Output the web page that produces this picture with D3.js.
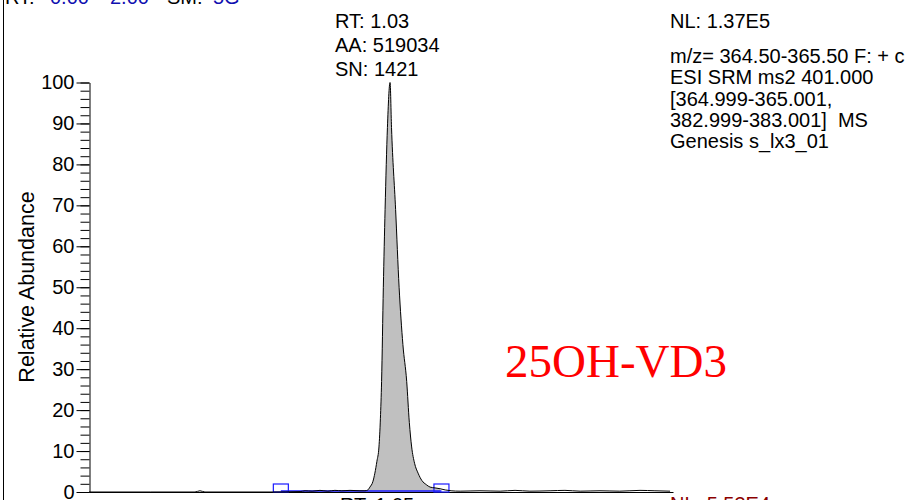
<!DOCTYPE html>
<html>
<head>
<meta charset="utf-8">
<script src="https://cdn.jsdelivr.net/npm/d3@7"></script>
<style>
  body { margin: 0; background: #fff; }
  svg { display: block; }
  text { font-family: "Liberation Sans", Arial, sans-serif; white-space: pre; }
</style>
</head>
<body>
<script>
// retention time (min) and relative abundance (%)
const rt = [0.00, 0.21, 0.363, 0.380, 0.397, 0.62, 0.723, 0.74, 0.764, 0.791, 0.818, 0.842, 0.866, 0.894, 0.928, 0.945,
            0.955, 0.962, 0.972, 0.979, 0.986, 0.993, 0.998, 1.002, 1.008, 1.014, 1.022, 1.031,
            1.036, 1.050, 1.062, 1.075, 1.088, 1.097, 1.105, 1.115, 1.127, 1.14, 1.155, 1.168, 1.185, 1.202, 1.22, 1.24,
            1.271, 1.339, 1.408, 1.459, 1.510, 1.579, 1.630, 1.682, 1.750, 1.818, 1.887, 1.938, 1.99];
const abundance = [0, 0, 0, 0.3, 0, 0, 0.1, 0.3, 0.2, 0.4, 0.2, 0.4, 0.3, 0.4, 0.3, 0.3,
                   0.5, 1.2, 2.5, 4.6, 7.5, 11, 18, 27, 50, 69, 89, 100,
                   89, 69, 50, 36, 27, 17, 11, 7, 4.6, 2.8, 1.8, 1.2, 1.0, 0.8, 0.5, 0.3,
                   0.2, 0.3, 0.2, 0.4, 0.2, 0.3, 0.4, 0.2, 0.3, 0.2, 0.4, 0.3, 0.2];

// integration window (peak start / end markers)
const peakStart = 0.657, peakEnd = 1.207;

const yTicks = [0, 10, 20, 30, 40, 50, 60, 70, 80, 90, 100];

const peakLabels = ["RT: 1.03", "AA: 519034", "SN: 1421"];
const infoLines = ["m/z= 364.50-365.50 F: + c", "ESI SRM ms2 401.000", "[364.999-365.001,", "382.999-383.001]  MS", "Genesis s_lx3_01"];

var data = rt.map(function(t, i) { return {rt: t, ab: abundance[i]}; });

var svg = d3.select("body").append("svg")
    .attr("width", 922)
    .attr("height", 500);

var x = d3.scaleLinear().domain([0, 2]).range([89, 673]);
var y = d3.scaleLinear().domain([0, 100]).range([492, 82.5]);

// left frame line
svg.append("line")
    .attr("x1", 3.5).attr("x2", 3.5).attr("y1", 0).attr("y2", 500)
    .attr("stroke", "#000").attr("stroke-width", 1);

// header row, only the bottom of it is in view
var head = svg.append("g").attr("font-size", 20);
head.append("text").attr("x", 5).attr("y", 3.5).text("RT:");
head.append("text").attr("x", 50).attr("y", 3.5).attr("fill", "#1010b0").text("0.00");
head.append("text").attr("x", 97).attr("y", 3.5).attr("fill", "#1010b0").text("-");
head.append("text").attr("x", 110).attr("y", 3.5).attr("fill", "#1010b0").text("2.00");
head.append("text").attr("x", 167).attr("y", 3.5).text("SM:");
head.append("text").attr("x", 213).attr("y", 3.5).attr("fill", "#1010b0").text("5G");

// filled integrated area
var inPeak = data.filter(function(d) { return d.rt >= peakStart && d.rt <= peakEnd; });
var area = d3.area()
    .x(function(d) { return x(d.rt); })
    .y0(y(0))
    .y1(function(d) { return y(d.ab); })
    .curve(d3.curveMonotoneX);

svg.append("path")
    .datum(inPeak)
    .attr("fill", "#c0c0c0")
    .attr("d", area);

// y axis, major ticks with labels
var yAxis = svg.append("g")
    .attr("transform", "translate(89.5,0)")
    .call(d3.axisLeft(y).tickValues(yTicks).tickSize(13).tickSizeOuter(0).tickPadding(2));
yAxis.selectAll("text")
    .attr("font-size", 20)
    .attr("fill", "#000");
yAxis.select(".domain").attr("stroke", "#000");

// minor ticks every 2 %
svg.append("g")
    .attr("transform", "translate(89.5,0)")
    .call(d3.axisLeft(y).tickValues(d3.range(0, 101, 2)).tickSize(9).tickFormat(""))
    .select(".domain").remove();

// x axis baseline (tick labels are below the visible area)
svg.append("g")
    .attr("transform", "translate(0,492)")
    .call(d3.axisBottom(x).tickValues([]).tickSizeOuter(0));

// integration baseline and markers
svg.append("line")
    .attr("x1", x(peakStart)).attr("x2", x(peakEnd))
    .attr("y1", y(0) - 1).attr("y2", y(0) - 1)
    .attr("stroke", "#1a1aff").attr("stroke-width", 1.5);

svg.selectAll(".marker")
    .data([peakStart, peakEnd])
    .enter()
    .append("rect")
    .attr("class", "marker")
    .attr("x", function(d) { return x(d) - 7.5; })
    .attr("y", y(0) - 8)
    .attr("width", 15)
    .attr("height", 8)
    .attr("fill", "none")
    .attr("stroke", "#1a1aff")
    .attr("stroke-width", 1.2);

// chromatogram trace
var line = d3.line()
    .x(function(d) { return x(d.rt); })
    .y(function(d) { return y(d.ab); })
    .curve(d3.curveMonotoneX);

svg.append("path")
    .datum(data)
    .attr("fill", "none")
    .attr("stroke", "#000")
    .attr("stroke-width", 1)
    .attr("d", line);

// y axis title
svg.append("text")
    .attr("transform", "translate(34,287) rotate(-90)")
    .attr("text-anchor", "middle")
    .attr("font-size", 21.5)
    .text("Relative Abundance");

// peak annotation
svg.selectAll(".plabel")
    .data(peakLabels)
    .enter()
    .append("text")
    .attr("class", "plabel")
    .attr("x", 335)
    .attr("y", function(d, i) { return 28 + i * 24; })
    .attr("font-size", 20)
    .text(function(d) { return d; });

// scan info on the right
svg.append("text")
    .attr("x", 670).attr("y", 28)
    .attr("font-size", 20)
    .text("NL: 1.37E5");
svg.selectAll(".info")
    .data(infoLines)
    .enter()
    .append("text")
    .attr("class", "info")
    .attr("x", 670)
    .attr("y", function(d, i) { return 63 + i * 21.3; })
    .attr("font-size", 20)
    .text(function(d) { return d; });

// compound name
svg.append("text")
    .attr("x", 505).attr("y", 377)
    .style("font-family", "'Liberation Serif', 'Times New Roman', serif")
    .attr("font-size", 47)
    .attr("fill", "#ff0000")
    .text("25OH-VD3");

// next panel labels, cut at the bottom
svg.append("text")
    .attr("x", 340).attr("y", 512)
    .attr("font-size", 20)
    .text("RT: 1.05");
svg.append("text")
    .attr("x", 670).attr("y", 511)
    .attr("font-size", 20)
    .attr("fill", "#8b0000")
    .text("NL: 5.53E4");
</script>
</body>
</html>
